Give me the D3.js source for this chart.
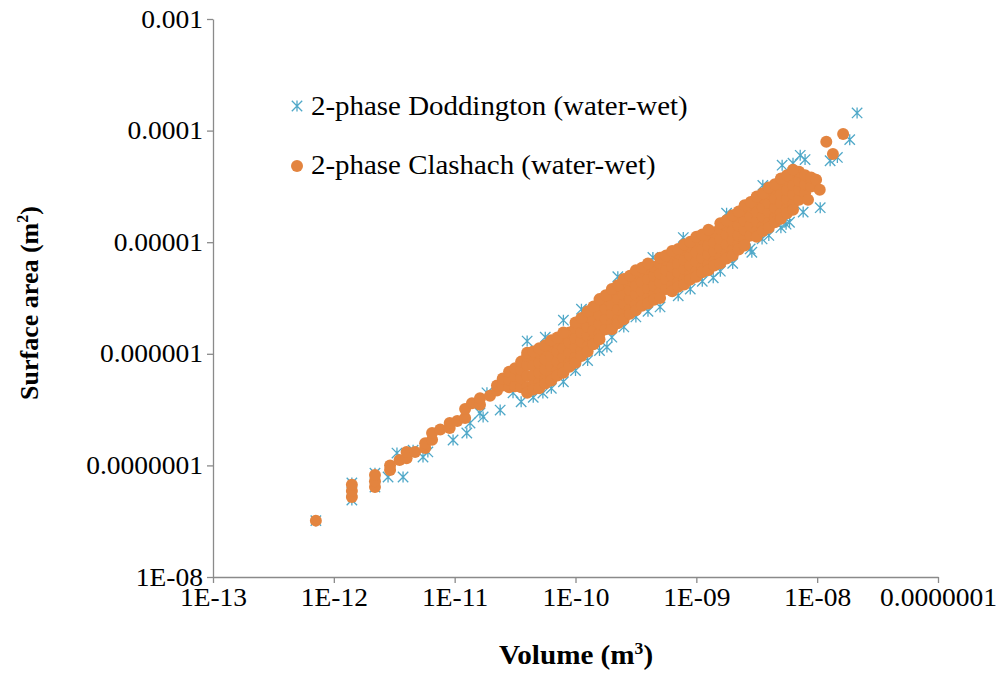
<!DOCTYPE html>
<html>
<head>
<meta charset="utf-8">
<script src="https://cdn.jsdelivr.net/npm/d3@7"></script>
<style>
  html, body { margin: 0; padding: 0; background: #ffffff; }
  svg { display: block; }
  text { font-family: "Liberation Serif", "Times New Roman", serif; fill: #000; }
</style>
</head>
<body>
<script>
// Pore volume (m^3) vs. surface area (m^2), two water-wet sandstones.

const xTickValues = [1e-13, 1e-12, 1e-11, 1e-10, 1e-9, 1e-8, 1e-7];
const xTickLabels = ["1E-13", "1E-12", "1E-11", "1E-10", "1E-09", "1E-08", "0.0000001"];
const yTickValues = [1e-8, 1e-7, 1e-6, 1e-5, 1e-4, 1e-3];
const yTickLabels = ["1E-08", "0.0000001", "0.000001", "0.00001", "0.0001", "0.001"];

const seriesNames = ["2-phase Doddington (water-wet)", "2-phase Clashach (water-wet)"];

// [volume, surface area]
const doddington = [
  [7.1e-13, 3.2e-8],
  [1.41e-12, 4.9e-8], [1.41e-12, 6.95e-8],
  [2.19e-12, 6.4e-8], [2.19e-12, 8.5e-8],
  [2.81e-12, 7.87e-8], [3.74e-12, 7.87e-8], [3.33e-12, 1.29e-7], [4.53e-12, 1.37e-7],
  [5.47e-12, 1.19e-7], [6.0e-12, 1.32e-7], [9.7e-12, 1.69e-7], [1.26e-11, 1.95e-7],
  [1.34e-11, 2.4e-7], [1.62e-11, 2.95e-7], [1.72e-11, 2.72e-7], [1.85e-11, 4.47e-7],
  [2.38e-11, 3.13e-7], [3.04e-11, 4.47e-7],
  [3.55e-11, 3.72e-7], [3.98e-11, 1.3e-6], [4.47e-11, 4.07e-7], [5.37e-11, 4.45e-7],
  [6.31e-11, 4.9e-7], [7.94e-11, 5.62e-7], [7.94e-11, 2.0e-6], [1.0e-10, 7.08e-7],
  [1.26e-10, 8.7e-7], [1.58e-10, 1.07e-6], [1.82e-10, 1.15e-6], [2.0e-10, 1.41e-6],
  [2.51e-10, 1.74e-6], [3.16e-10, 2.14e-6], [3.98e-10, 2.4e-6], [5.01e-10, 2.63e-6],
  [7.08e-10, 3.31e-6], [8.91e-10, 3.8e-6], [1.12e-9, 4.47e-6], [1.38e-9, 4.8e-6],
  [1.58e-9, 5.5e-6], [2.0e-9, 6.46e-6], [2.79e-9, 8.7e-6], [2.88e-9, 8.13e-6],
  [3.5e-9, 1.07e-5], [3.98e-9, 1.15e-5], [5.01e-9, 1.35e-5], [5.53e-9, 1.45e-5],
  [5.9e-9, 1.51e-5], [7.66e-9, 1.86e-5], [1.06e-8, 2.04e-5], [1.28e-8, 5.37e-5],
  [1.47e-8, 5.75e-5], [1.86e-8, 8.3e-5], [2.14e-8, 1.44e-4],
  [5.62e-11, 1.41e-6], [1.12e-10, 2.51e-6], [2.24e-10, 4.9e-6], [4.37e-10, 7.3e-6],
  [7.8e-10, 1.1e-5], [1.78e-9, 1.82e-5], [3.55e-9, 3.23e-5], [5.13e-9, 4.9e-5],
  [6.31e-9, 5.1e-5], [7.24e-9, 6.0e-5], [7.94e-9, 5.5e-5]
];

const clashach = [
  [7.1e-13, 3.2e-8],
  [1.41e-12, 5.2e-8], [1.41e-12, 5.9e-8], [1.41e-12, 6.7e-8],
  [2.19e-12, 6.4e-8], [2.19e-12, 7.2e-8], [2.19e-12, 8.2e-8],
  [2.92e-12, 9.1e-8], [2.92e-12, 1.0e-7], [3.5e-12, 1.12e-7],
  [4.0e-12, 1.16e-7], [4.0e-12, 1.32e-7], [4.7e-12, 1.32e-7],
  [5.7e-12, 1.43e-7], [5.7e-12, 1.58e-7], [6.5e-12, 1.7e-7], [6.5e-12, 1.95e-7],
  [7.6e-12, 2.1e-7], [9.1e-12, 2.16e-7], [9.1e-12, 2.4e-7], [1.05e-11, 2.5e-7],
  [1.22e-11, 2.66e-7], [1.22e-11, 3.2e-7], [1.39e-11, 3.6e-7],
  [1.62e-11, 3.5e-7], [1.62e-11, 4.0e-7], [1.96e-11, 4.2e-7],
  [2.24e-11, 4.7e-7], [2.24e-11, 5.2e-7], [2.5e-11, 5.2e-7], [2.5e-11, 6.0e-7],
  [2.82e-11, 5.01e-7], [2.82e-11, 5.89e-7], [2.82e-11, 6.92e-7],
  [3.16e-11, 5.13e-7], [3.16e-11, 6.31e-7], [3.16e-11, 7.41e-7],
  [3.55e-11, 5.01e-7], [3.55e-11, 6.03e-7], [3.55e-11, 7.24e-7], [3.55e-11, 8.51e-7],
  [3.98e-11, 5.01e-7], [3.98e-11, 6.31e-7], [3.98e-11, 7.94e-7], [3.98e-11, 9.55e-7],
  [4.47e-11, 5.25e-7], [4.47e-11, 6.46e-7], [4.47e-11, 7.94e-7], [4.47e-11, 9.77e-7],
  [5.01e-11, 5.5e-7], [5.01e-11, 6.76e-7], [5.01e-11, 8.32e-7], [5.01e-11, 1.02e-6],
  [5.62e-11, 5.89e-7], [5.62e-11, 7.24e-7], [5.62e-11, 8.91e-7], [5.62e-11, 1.1e-6],
  [6.31e-11, 6.31e-7], [6.31e-11, 7.76e-7], [6.31e-11, 9.55e-7], [6.31e-11, 1.17e-6],
  [7.08e-11, 7.08e-7], [7.08e-11, 8.51e-7], [7.08e-11, 1.05e-6], [7.08e-11, 1.26e-6],
  [7.94e-11, 7.59e-7], [7.94e-11, 9.33e-7], [7.94e-11, 1.12e-6], [7.94e-11, 1.38e-6],
  [8.91e-11, 8.32e-7], [8.91e-11, 1.02e-6], [8.91e-11, 1.26e-6], [8.91e-11, 1.55e-6],
  [1.0e-10, 9.33e-7], [1.0e-10, 1.15e-6], [1.0e-10, 1.38e-6], [1.0e-10, 1.7e-6],
  [1.12e-10, 1.05e-6], [1.12e-10, 1.29e-6], [1.12e-10, 1.55e-6], [1.12e-10, 1.91e-6],
  [1.26e-10, 1.17e-6], [1.26e-10, 1.45e-6], [1.26e-10, 1.74e-6], [1.26e-10, 2.14e-6],
  [1.41e-10, 1.32e-6], [1.41e-10, 1.62e-6], [1.41e-10, 2.0e-6], [1.41e-10, 2.45e-6],
  [1.58e-10, 1.51e-6], [1.58e-10, 1.86e-6], [1.58e-10, 2.24e-6], [1.58e-10, 2.75e-6],
  [1.78e-10, 1.66e-6], [1.78e-10, 2.04e-6], [1.78e-10, 2.51e-6], [1.78e-10, 3.09e-6],
  [2.0e-10, 1.86e-6], [2.0e-10, 2.29e-6], [2.0e-10, 2.75e-6], [2.0e-10, 3.39e-6],
  [2.24e-10, 2.04e-6], [2.24e-10, 2.51e-6], [2.24e-10, 3.09e-6], [2.24e-10, 3.8e-6],
  [2.51e-10, 2.29e-6], [2.51e-10, 2.82e-6], [2.51e-10, 3.39e-6], [2.51e-10, 4.17e-6],
  [2.82e-10, 2.51e-6], [2.82e-10, 3.09e-6], [2.82e-10, 3.72e-6], [2.82e-10, 4.57e-6],
  [3.16e-10, 2.75e-6], [3.16e-10, 3.39e-6], [3.16e-10, 4.07e-6], [3.16e-10, 5.01e-6],
  [3.55e-10, 2.95e-6], [3.55e-10, 3.63e-6], [3.55e-10, 4.37e-6], [3.55e-10, 5.37e-6],
  [3.98e-10, 3.16e-6], [3.98e-10, 3.89e-6], [3.98e-10, 4.68e-6], [3.98e-10, 5.75e-6],
  [4.47e-10, 3.39e-6], [4.47e-10, 4.07e-6], [4.47e-10, 5.01e-6], [4.47e-10, 6.03e-6],
  [5.01e-10, 3.55e-6], [5.01e-10, 4.37e-6], [5.01e-10, 5.25e-6], [5.01e-10, 6.46e-6],
  [5.62e-10, 3.8e-6], [5.62e-10, 4.68e-6], [5.62e-10, 5.62e-6], [5.62e-10, 6.92e-6],
  [6.31e-10, 4.07e-6], [6.31e-10, 5.01e-6], [6.31e-10, 6.03e-6], [6.31e-10, 7.41e-6],
  [7.08e-10, 4.37e-6], [7.08e-10, 5.37e-6], [7.08e-10, 6.46e-6], [7.08e-10, 7.94e-6],
  [7.94e-10, 4.68e-6], [7.94e-10, 5.75e-6], [7.94e-10, 6.92e-6], [7.94e-10, 8.51e-6],
  [8.91e-10, 5.13e-6], [8.91e-10, 6.17e-6], [8.91e-10, 7.59e-6], [8.91e-10, 9.12e-6],
  [1.0e-9, 5.5e-6], [1.0e-9, 6.76e-6], [1.0e-9, 8.13e-6], [1.0e-9, 1.0e-5],
  [1.12e-9, 5.89e-6], [1.12e-9, 7.24e-6], [1.12e-9, 8.71e-6], [1.12e-9, 1.07e-5],
  [1.26e-9, 6.31e-6], [1.26e-9, 7.76e-6], [1.26e-9, 9.33e-6], [1.26e-9, 1.15e-5],
  [1.41e-9, 6.76e-6], [1.41e-9, 8.32e-6], [1.41e-9, 1.0e-5], [1.41e-9, 1.23e-5],
  [1.58e-9, 7.24e-6], [1.58e-9, 8.91e-6], [1.58e-9, 1.07e-5], [1.58e-9, 1.32e-5],
  [1.78e-9, 7.94e-6], [1.78e-9, 9.55e-6], [1.78e-9, 1.17e-5], [1.78e-9, 1.41e-5],
  [2.0e-9, 8.51e-6], [2.0e-9, 1.05e-5], [2.0e-9, 1.26e-5], [2.0e-9, 1.55e-5],
  [2.24e-9, 9.55e-6], [2.24e-9, 1.15e-5], [2.24e-9, 1.41e-5], [2.24e-9, 1.7e-5],
  [2.51e-9, 1.05e-5], [2.51e-9, 1.29e-5], [2.51e-9, 1.55e-5], [2.51e-9, 1.91e-5],
  [2.82e-9, 1.15e-5], [2.82e-9, 1.41e-5], [2.82e-9, 1.7e-5], [2.82e-9, 2.09e-5],
  [3.16e-9, 1.26e-5], [3.16e-9, 1.55e-5], [3.16e-9, 1.86e-5], [3.16e-9, 2.29e-5],
  [3.55e-9, 1.38e-5], [3.55e-9, 1.7e-5], [3.55e-9, 2.04e-5], [3.55e-9, 2.51e-5],
  [3.98e-9, 1.51e-5], [3.98e-9, 1.86e-5], [3.98e-9, 2.24e-5], [3.98e-9, 2.75e-5],
  [4.47e-9, 1.66e-5], [4.47e-9, 2.04e-5], [4.47e-9, 2.45e-5], [4.47e-9, 3.02e-5],
  [5.01e-9, 1.82e-5], [5.01e-9, 2.24e-5], [5.01e-9, 2.69e-5], [5.01e-9, 3.31e-5],
  [5.62e-9, 2.0e-5], [5.62e-9, 2.45e-5], [5.62e-9, 2.95e-5], [5.62e-9, 3.63e-5],
  [6.31e-9, 2.19e-5], [6.31e-9, 2.69e-5], [6.31e-9, 3.24e-5], [6.31e-9, 3.98e-5],
  [7.08e-9, 2.4e-5], [7.08e-9, 2.95e-5], [7.08e-9, 3.55e-5], [7.08e-9, 4.27e-5],
  [7.94e-9, 2.75e-5], [7.94e-9, 3.31e-5], [7.94e-9, 3.98e-5],
  [8.4e-9, 2.4e-5], [8.91e-9, 3.16e-5], [8.91e-9, 3.8e-5],
  [9.8e-9, 3.63e-5], [1.05e-8, 2.95e-5],
  [1.19e-8, 7.94e-5], [1.35e-8, 6.17e-5], [1.64e-8, 9.33e-5],
  // upper rim of the main cloud
  [3.98e-11, 1.02e-6], [4.47e-11, 1.05e-6], [5.01e-11, 1.12e-6], [5.62e-11, 1.19e-6],
  [6.31e-11, 1.32e-6], [7.08e-11, 1.4e-6], [7.94e-11, 1.55e-6], [1.0e-10, 1.91e-6],
  [1.12e-10, 2.09e-6], [1.26e-10, 2.4e-6], [1.41e-10, 2.66e-6], [1.58e-10, 3.09e-6],
  [1.78e-10, 3.35e-6], [2.0e-10, 3.8e-6], [2.24e-10, 4.12e-6], [2.51e-10, 4.68e-6],
  [2.82e-10, 5.01e-6], [3.16e-10, 5.62e-6], [3.55e-10, 5.89e-6], [3.98e-10, 6.46e-6],
  [5.01e-10, 7.24e-6], [5.62e-10, 7.59e-6], [6.31e-10, 8.32e-6], [7.08e-10, 8.71e-6],
  [7.94e-10, 9.55e-6], [8.91e-10, 1.01e-5], [1.0e-9, 1.12e-5], [1.12e-9, 1.17e-5],
  [1.26e-9, 1.29e-5], [1.58e-9, 1.48e-5], [1.78e-9, 1.57e-5], [2.0e-9, 1.74e-5],
  [2.24e-9, 1.88e-5], [2.51e-9, 2.14e-5], [2.82e-9, 2.29e-5], [3.16e-9, 2.57e-5],
  [3.55e-9, 2.75e-5], [3.98e-9, 3.09e-5], [4.47e-9, 3.31e-5], [5.01e-9, 3.72e-5],
  [5.62e-9, 3.98e-5], [6.31e-9, 4.47e-5],
  // lower rim of the main cloud
  [3.98e-11, 4.47e-7], [4.47e-11, 4.79e-7], [5.01e-11, 4.9e-7], [5.62e-11, 5.43e-7],
  [6.31e-11, 5.75e-7], [7.08e-11, 6.38e-7], [7.94e-11, 6.76e-7], [8.91e-11, 7.67e-7],
  [1.0e-10, 8.32e-7], [1.12e-10, 9.55e-7], [1.26e-10, 1.05e-6], [1.41e-10, 1.22e-6],
  [1.58e-10, 1.35e-6], [2.0e-10, 1.66e-6], [2.24e-10, 1.88e-6], [2.51e-10, 2.04e-6],
  [2.82e-10, 2.29e-6], [3.16e-10, 2.45e-6], [3.55e-10, 2.69e-6], [3.98e-10, 2.82e-6],
  [4.47e-10, 3.05e-6], [5.01e-10, 3.16e-6], [6.31e-10, 3.63e-6], [7.08e-10, 3.98e-6],
  [7.94e-10, 4.17e-6], [8.91e-10, 4.62e-6], [1.0e-9, 4.9e-6], [1.12e-9, 5.37e-6],
  [1.26e-9, 5.62e-6], [1.41e-9, 6.17e-6], [1.58e-9, 6.46e-6], [1.78e-9, 7.16e-6],
  [2.0e-9, 7.59e-6], [2.24e-9, 8.61e-6], [2.51e-9, 9.33e-6], [3.16e-9, 1.12e-5],
  [3.55e-9, 1.26e-5], [3.98e-9, 1.35e-5], [4.47e-9, 1.51e-5], [5.01e-9, 1.62e-5],
  [5.62e-9, 1.82e-5], [6.31e-9, 1.95e-5]
];

const W = 1003, H = 678;
const svg = d3.select("body").append("svg").attr("width", W).attr("height", H);

const x = d3.scaleLog().domain([1e-13, 1e-7]).range([213, 938]);
const y = d3.scaleLog().domain([1e-8, 1e-3]).range([577, 19]);

const axisColor = "#8a8a8a";
const fontFamily = '"Liberation Serif", "Times New Roman", serif';
const stretch = 1.1;   // horizontal text widening

// Axes
const xAxis = d3.axisBottom(x)
  .tickValues(xTickValues)
  .tickFormat((d, i) => xTickLabels[i])
  .tickSize(6).tickSizeOuter(0).tickPadding(5);
const yAxis = d3.axisLeft(y)
  .tickValues(yTickValues)
  .tickFormat((d, i) => yTickLabels[i])
  .tickSize(6).tickSizeOuter(0).tickPadding(4);

const gx = svg.append("g").attr("transform", "translate(0,577)").call(xAxis);
const gy = svg.append("g").attr("transform", "translate(213,0)").call(yAxis);
[gx, gy].forEach(g => {
  g.select(".domain").attr("stroke", axisColor).attr("stroke-width", 1.3);
  g.selectAll(".tick line").attr("stroke", axisColor).attr("stroke-width", 1.3);
  g.selectAll(".tick text")
    .attr("font-family", fontFamily).attr("font-size", 25).attr("fill", "#111")
    .attr("transform", `scale(${stretch},1)`);
});
gy.selectAll(".tick text").attr("x", -10 / stretch);

// Markers
const blue = "#4fa8c8";
const orange = "#e3843f";
const starPath = "M0,-5.5V5.5M-5.2,-5.2L5.2,5.2M-5.2,5.2L5.2,-5.2";

svg.append("g").selectAll("path")
  .data(doddington).join("path")
  .attr("d", starPath)
  .attr("transform", d => `translate(${x(d[0])},${y(d[1])})`)
  .attr("fill", "none").attr("stroke", blue).attr("stroke-width", 1.3);

svg.append("g").selectAll("circle")
  .data(clashach).join("circle")
  .attr("cx", d => x(d[0])).attr("cy", d => y(d[1]))
  .attr("r", 6).attr("fill", orange);

// Legend
const legend = svg.append("g");
legend.append("path").attr("d", starPath)
  .attr("transform", "translate(297,106)")
  .attr("fill", "none").attr("stroke", blue).attr("stroke-width", 1.3);
legend.append("circle").attr("cx", 297).attr("cy", 166).attr("r", 6).attr("fill", orange);
legend.selectAll("text").data(seriesNames).join("text")
  .attr("transform", (d, i) => `translate(311,${115 + i * 59}) scale(${stretch},1)`)
  .attr("font-size", 26.3).attr("fill", "#111")
  .text(d => d);

// Axis titles
const xt = svg.append("text")
  .attr("transform", `translate(576,664) scale(${stretch},1)`)
  .attr("text-anchor", "middle")
  .attr("font-size", 26.5).attr("font-weight", "bold").attr("fill", "#111");
xt.append("tspan").text("Volume (m");
xt.append("tspan").attr("font-size", 16).attr("dy", -10).text("3");
xt.append("tspan").attr("dy", 10).text(")");

const yt = svg.append("text")
  .attr("transform", "translate(38,303) rotate(-90)")
  .attr("text-anchor", "middle")
  .attr("font-size", 26).attr("font-weight", "bold").attr("fill", "#111");
yt.append("tspan").text("Surface area (m");
yt.append("tspan").attr("font-size", 16).attr("dy", -10).text("2");
yt.append("tspan").attr("dy", 10).text(")");
</script>
</body>
</html>
